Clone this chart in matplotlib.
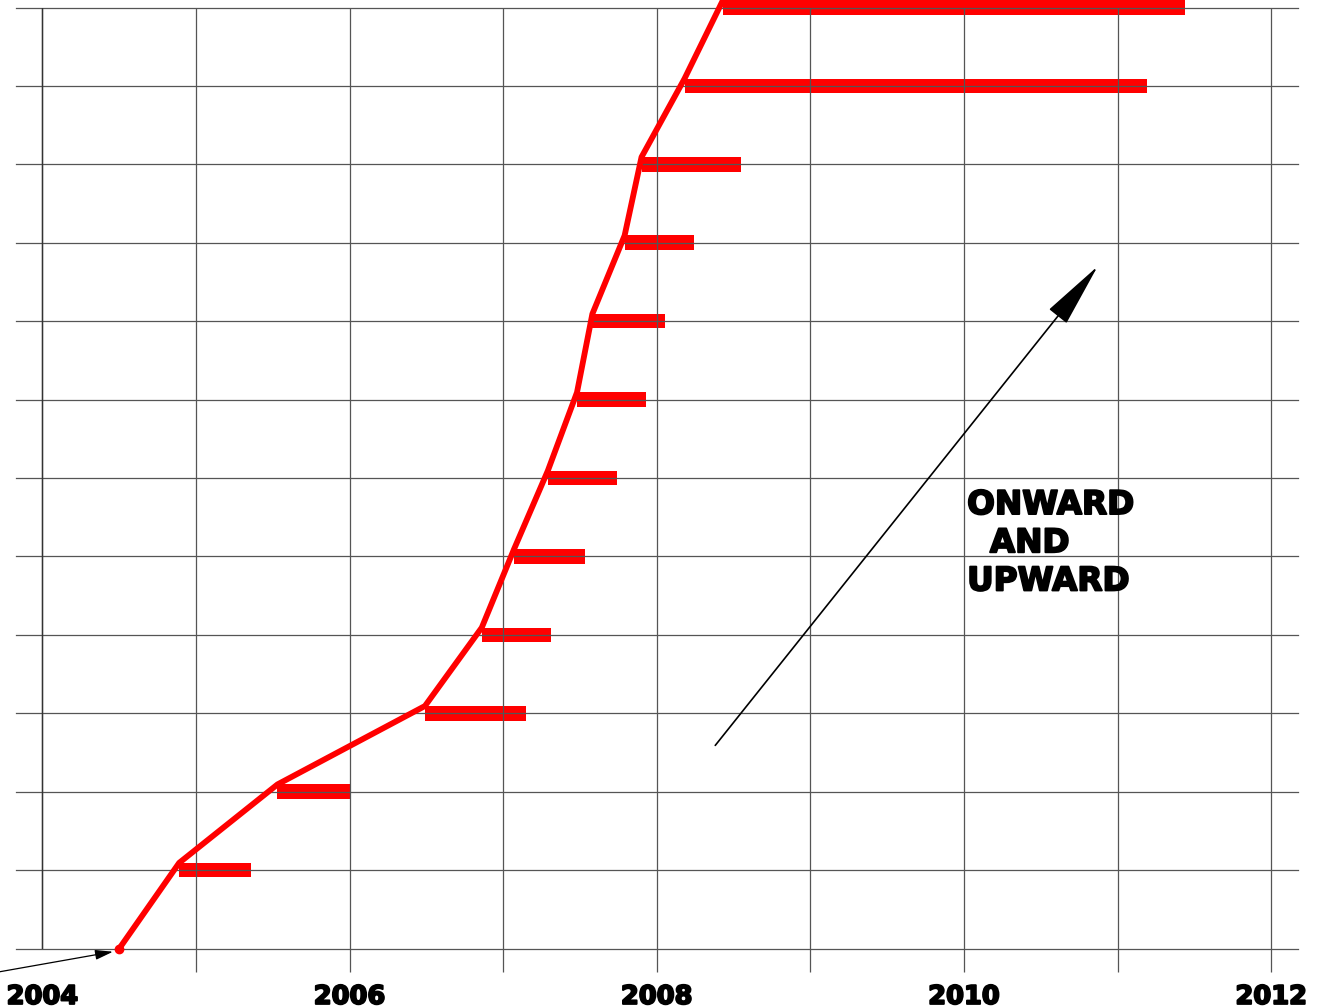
import matplotlib
matplotlib.use("Agg")
import matplotlib.pyplot as plt
import matplotlib.patheffects as pe
import numpy as np

# ---- data ----
start_year = 2004.50
levels = [1, 2, 3, 4, 5, 6, 7, 8, 9, 10, 11, 12]
bar_start = [2004.89, 2005.53, 2006.49, 2006.86, 2007.07, 2007.29,
             2007.48, 2007.58, 2007.79, 2007.90, 2008.18, 2008.43]
bar_end = [2005.36, 2006.00, 2007.15, 2007.31, 2007.53, 2007.74,
           2007.93, 2008.05, 2008.24, 2008.55, 2011.19, 2011.44]
year_ticks = [2004, 2005, 2006, 2007, 2008, 2009, 2010, 2011, 2012]
year_labels = ["2004", "", "2006", "", "2008", "", "2010", "", "2012"]
annotation_text = "ONWARD\n  AND\nUPWARD"

# ---- style ----
RED = "#ff0000"
GRID = "#555555"
bar_h = 0.185
heavy = [pe.withStroke(linewidth=1.4, foreground="black")]

fig = plt.figure(figsize=(13.2, 10.08), dpi=100)
ax = fig.add_axes([16 / 1320, 1 - 948.5 / 1008, (1298 - 16) / 1320, (948.5 - 7.5) / 1008])
ax.set_xlim(2003.8275, 2012.174)
ax.set_ylim(0, 12)

for s in ax.spines.values():
    s.set_visible(False)

# bars
widths = np.array(bar_end) - np.array(bar_start)
bars = ax.barh(levels, widths, left=bar_start, height=bar_h, color=RED, zorder=1)
for b in bars:
    b.set_clip_on(False)

# grid
ax.set_yticks(range(0, 13))
ax.set_yticklabels([])
ax.tick_params(axis="y", length=0)
ax.set_xticks(year_ticks)
ax.set_xticklabels(year_labels, fontsize=18.5, fontweight="bold", family="DejaVu Sans")
for lab in ax.get_xticklabels():
    lab.set_path_effects(heavy)
ax.tick_params(axis="x", length=16.5, width=0.9, color=GRID, pad=9)
ax.grid(True, color=GRID, lw=0.9)
ax.set_axisbelow(False)
for t in ax.yaxis.get_major_ticks():
    t.gridline.set_clip_on(False)
ax.xaxis.get_major_ticks()[0].tick1line.set_visible(False)
ax.axvline(2004, color="#333333", lw=1.0, zorder=2.6)

# trend line through bar top-left corners
lx = [start_year] + list(bar_start)
ly = [0] + [l + bar_h / 2 for l in levels]
ax.plot(lx, ly, color=RED, lw=4.2, solid_joinstyle="round", solid_capstyle="round",
        zorder=3, clip_on=False)
ax.plot([start_year], [0], "o", color=RED, ms=6, zorder=3, clip_on=False)

# small incoming arrow at bottom left
ax.annotate("", xy=(2004.459, -0.041), xytext=(2003.723, -0.296),
            arrowprops=dict(arrowstyle="-|>,head_length=0.9,head_width=0.25",
                            mutation_scale=12, lw=0.9, color="black",
                            shrinkA=0, shrinkB=0),
            annotation_clip=False, zorder=4)

# big arrow
ax.annotate("", xy=(2010.87, 8.70), xytext=(2008.38, 2.59),
            arrowprops=dict(arrowstyle="-|>,head_length=0.418,head_width=0.072",
                            mutation_scale=100, lw=1.2, color="black",
                            shrinkA=0, shrinkB=0),
            zorder=4)

ax.text(2010.02, 5.872, annotation_text, fontsize=23.5, fontweight="bold",
        family="DejaVu Sans", ha="left", va="top", linespacing=1.2, zorder=4,
        path_effects=heavy)

fig.savefig("out.png", dpi=100)
